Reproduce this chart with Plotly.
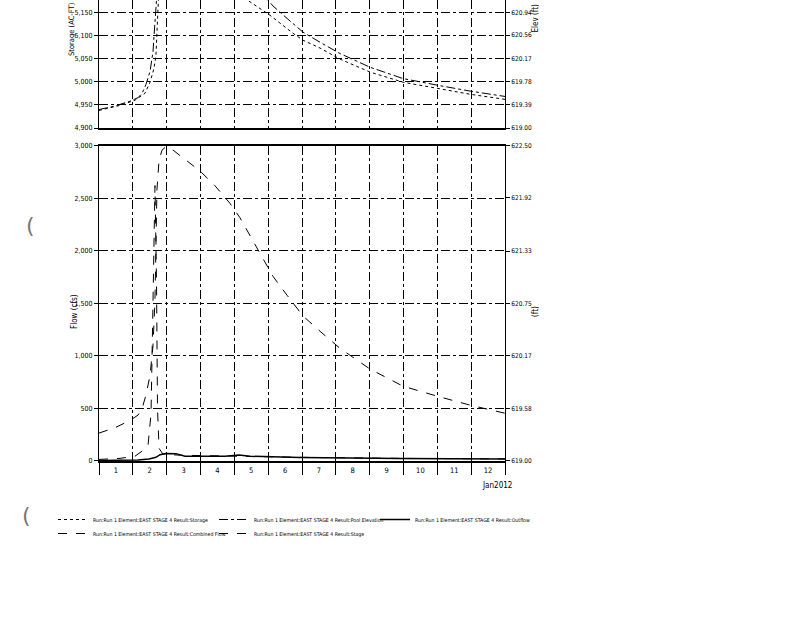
import pandas as pd
import plotly.graph_objects as go

START = pd.Timestamp("2012-01-01 00:00")

# ---- data (hours after 1 Jan 2012 00:00) ----
storage_hours = [0, 14.9, 25.5, 32.6, 36.2, 39.0, 40.4, 41.5, 43.3, 47.5, 57.5, 71.6,
                 92.9, 105.7, 121.3, 137.6, 144.7, 156.8, 171.0, 192.3, 215.7, 239.8, 263.2, 288.0]
storage_acft = [4938, 4949, 4960, 4975, 4999, 5029, 5057, 5150, 5260, 5310, 5300, 5265,
                5205, 5176, 5144, 5105, 5090, 5073, 5049, 5021, 4999, 4986, 4973, 4962]

elev_hours = [0, 11.4, 22.0, 27.7, 30.5, 33.3, 36.2, 38.3, 39.7, 40.4, 41.1, 42.6, 44.7,
              47.5, 51.8, 57.5, 71.6, 82.0, 92.9, 100.0, 107.1, 116.3, 123.4, 133.4,
              144.7, 156.8, 171.0, 192.3, 215.7, 239.8, 263.2, 288.0]
pool_elev_ft = [619.31, 619.37, 619.45, 619.51, 619.58, 619.73, 619.95, 620.28, 620.78,
                621.56, 622.01, 622.34, 622.45, 622.49, 622.46, 622.39, 622.22, 622.06,
                621.86, 621.70, 621.50, 621.24, 621.05, 620.84, 620.61, 620.44, 620.25,
                620.02, 619.83, 619.72, 619.62, 619.53]
stage_ft = list(pool_elev_ft)

inflow_hours = [0, 14.9, 25.5, 31.2, 34.8, 36.9, 38.3, 39.7, 40.8, 41.5, 42.6, 45.4,
                57.5, 96.5, 142.6, 213.5, 288.0]
combined_flow_cfs = [15, 25, 45, 100, 150, 450, 1500, 2620, 1700, 500, 120, 65,
                     55, 45, 35, 25, 20]

outflow_hours = [0, 27.7, 35.5, 40.4, 43.3, 47.5, 54.6, 61.0, 89.4, 99.3, 107.1, 142.6,
                 213.5, 288.0]
outflow_cfs = [5, 10, 20, 35, 60, 72, 70, 45, 45, 58, 45, 33, 25, 20]

storage_ticks = [4900, 4950, 5000, 5050, 5100, 5150]
elev_top_ticks = [619.00, 619.39, 619.78, 620.17, 620.56, 620.94]
flow_ticks = [0, 500, 1000, 1500, 2000, 2500, 3000]
elev_bottom_ticks = [619.00, 619.58, 620.17, 620.75, 621.33, 621.92, 622.50]

prefix = "Run:Run 1 Element:EAST STAGE 4 Result:"
names = ["Storage", "Pool Elevation", "Outflow", "Combined Flow", "Stage"]


def to_time(hours):
    return [START + pd.Timedelta(hours=h) for h in hours]


NARROW = "Liberation Sans Narrow, Arial Narrow, DejaVu Sans Condensed, sans-serif"
BLACK = "black"

fig = go.Figure()
fig.add_trace(go.Scatter(x=to_time(storage_hours), y=storage_acft, xaxis="x2", yaxis="y2",
                         mode="lines", name=prefix + names[0], legend="legend",
                         line=dict(color=BLACK, width=1, dash="dot")))
fig.add_trace(go.Scatter(x=to_time(elev_hours), y=pool_elev_ft, xaxis="x2", yaxis="y3",
                         mode="lines", name=prefix + names[1], legend="legend",
                         line=dict(color=BLACK, width=1, dash="dashdot")))
fig.add_trace(go.Scatter(x=to_time(outflow_hours), y=outflow_cfs, xaxis="x", yaxis="y",
                         mode="lines", name=prefix + names[2], legend="legend",
                         line=dict(color=BLACK, width=1.5, dash="solid")))
fig.add_trace(go.Scatter(x=to_time(inflow_hours), y=combined_flow_cfs, xaxis="x", yaxis="y",
                         mode="lines", name=prefix + names[3], legend="legend2",
                         line=dict(color=BLACK, width=1, dash="dash")))
fig.add_trace(go.Scatter(x=to_time(elev_hours), y=stage_ft, xaxis="x", yaxis="y4",
                         mode="lines", name=prefix + names[4], legend="legend2",
                         line=dict(color=BLACK, width=1, dash="dash")))

xrange = [START, START + pd.Timedelta(days=12)]
grid = dict(showgrid=True, gridcolor=BLACK, gridwidth=1, griddash="dashdot")
tickfont = dict(family=NARROW, size=7, color=BLACK)
rtickfont = dict(family=NARROW, size=6.5, color=BLACK)

PLOT_L, PLOT_R, PLOT_T, PLOT_B = 99, 505, 0, 461


def px_x(px):
    return (px - PLOT_L) / (PLOT_R - PLOT_L)


def px_y(py):
    return (PLOT_B - py) / (PLOT_B - PLOT_T)


fig.update_layout(
    width=800, height=618,
    margin=dict(l=PLOT_L, r=800 - PLOT_R, t=PLOT_T, b=618 - PLOT_B, autoexpand=False),
    paper_bgcolor="white", plot_bgcolor="white",
    font=dict(family=NARROW, color=BLACK),
    xaxis=dict(domain=[0, 1], anchor="y", type="date", range=xrange, automargin=False,
               tick0=START, dtick=86400000, ticklabelmode="period", tickformat="%-d",
               ticks="outside", ticklen=12, tickcolor=BLACK, ticklabelstandoff=-11,
               showline=True, linecolor=BLACK, linewidth=1.5, mirror=True,
               tickfont=dict(family=NARROW, size=7.5, color=BLACK), **grid),
    xaxis2=dict(domain=[0, 1], anchor="y2", type="date", matches="x", range=xrange,
                automargin=False, tick0=START, dtick=86400000, showticklabels=False,
                ticks="", showline=True, linecolor=BLACK, linewidth=1.5, **grid),
    yaxis=dict(domain=[0, 0.684], anchor="x", range=[0, 3000], tickvals=flow_ticks,
               automargin=False, tickformat=",d", ticks="outside", ticklen=4,
               tickcolor=BLACK, showline=True, linecolor=BLACK, zeroline=False,
               tickfont=tickfont, **grid),
    yaxis4=dict(overlaying="y", side="right", anchor="x", range=[619, 622.5],
                automargin=False, tickvals=elev_bottom_ticks, tickformat=".2f",
                ticks="outside", ticklen=4, tickcolor=BLACK, showline=True,
                linecolor=BLACK, showgrid=False, zeroline=False, tickfont=rtickfont),
    yaxis2=dict(domain=[1 - 128 / 461, 1], anchor="x2", range=[4900, 5177],
                automargin=False, tickvals=storage_ticks, tickformat=",d",
                ticks="outside", ticklen=4, tickcolor=BLACK, showline=True,
                linecolor=BLACK, zeroline=False, tickfont=tickfont, **grid),
    yaxis3=dict(overlaying="y2", side="right", anchor="x2",
                range=[619, 619 + (5177 - 4900) / 250 * 1.94], automargin=False,
                tickvals=elev_top_ticks, tickformat=".2f", ticks="outside", ticklen=4,
                tickcolor=BLACK, showline=True, linecolor=BLACK, showgrid=False,
                zeroline=False, tickfont=rtickfont),
    legend=dict(orientation="h", x=px_x(53), xanchor="left", y=px_y(505), yanchor="top",
                entrywidth=116, entrywidthmode="pixels", bgcolor="rgba(0,0,0,0)",
                font=dict(family=NARROW, size=5.2, color=BLACK), tracegroupgap=0),
    legend2=dict(orientation="h", x=px_x(53), xanchor="left", y=px_y(519), yanchor="top",
                 entrywidth=116, entrywidthmode="pixels", bgcolor="rgba(0,0,0,0)",
                 font=dict(family=NARROW, size=5.2, color=BLACK), tracegroupgap=0),
    showlegend=True,
)

annotations = [
    dict(text="Storage (AC-FT)", x=px_x(72), y=px_y(58), xanchor="center", yanchor="bottom",
         textangle=-90, size=7.5),
    dict(text="Elev (ft)", x=px_x(535), y=px_y(35), xanchor="center", yanchor="bottom",
         textangle=-90, size=8),
    dict(text="Flow (cfs)", x=px_x(74), y=px_y(312), xanchor="center", yanchor="middle",
         textangle=-90, size=8),
    dict(text="(ft)", x=px_x(535), y=px_y(312), xanchor="center", yanchor="middle",
         textangle=-90, size=8),
    dict(text="Jan2012", x=px_x(497), y=px_y(486), xanchor="center", yanchor="middle",
         textangle=0, size=8),
]
for a in annotations:
    size = a.pop("size")
    fig.add_annotation(xref="paper", yref="paper", showarrow=False,
                       font=dict(family=NARROW, size=size, color=BLACK), **a)

# scan artefacts at the left edge
for ax_px, ay_px in [(24, 226), (20, 530)]:
    fig.add_annotation(xref="paper", yref="paper", x=px_x(ax_px), y=px_y(ay_px), text="(",
                       showarrow=False, font=dict(family="DejaVu Sans", size=22, color="#777"))

fig.write_html("out.html", config={"displayModeBar": False},
               post_script="document.body.style.margin='0';document.body.style.padding='0';")
